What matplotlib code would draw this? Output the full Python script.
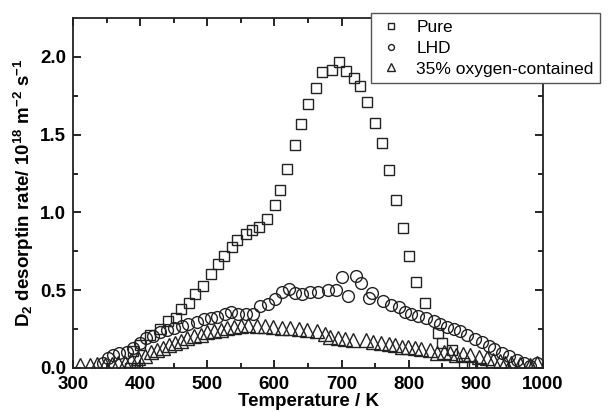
import numpy as np
import matplotlib
matplotlib.use("Agg")
from matplotlib import pyplot as plt

plt.rcParams["font.family"] = ["Liberation Sans", "DejaVu Sans"]
plt.rcParams["mathtext.fontset"] = "custom"
plt.rcParams["mathtext.rm"] = "Liberation Sans:bold"
plt.rcParams["mathtext.bf"] = "Liberation Sans:bold"
plt.rcParams["mathtext.default"] = "bf"

# pure W
pure_t = [385, 395, 389, 400, 415, 429, 441, 453, 461, 473, 482, 493, 505, 516, 525, 537, 545,
          557, 566, 577, 589, 601, 609, 619, 630, 640, 650, 662, 671, 686, 696, 707, 718,
          728, 738, 750, 760, 770, 781, 791, 801, 811, 824, 843, 850, 865, 882, 894, 908]
pure_v = [0.0, 0.0, 0.108, 0.15, 0.215, 0.248, 0.30, 0.32, 0.377, 0.42, 0.474, 0.528, 0.603,
          0.668, 0.72, 0.776, 0.82, 0.862, 0.884, 0.905, 0.96, 1.045, 1.142, 1.282, 1.433,
          1.569, 1.696, 1.80, 1.90, 1.918, 1.966, 1.91, 1.864, 1.81, 1.71, 1.573, 1.444,
          1.27, 1.078, 0.90, 0.722, 0.556, 0.42, 0.226, 0.162, 0.118, 0.032, 0.01, 0.0]

# LHD
lhd_t = [345, 352, 360, 369, 380, 390, 400, 409, 419, 430, 440, 451, 462, 472, 484, 495, 505,
         515, 526, 536, 546, 557, 568, 579, 590, 601, 611, 621, 631, 641, 653, 665, 680, 692,
         700, 710, 721, 729, 741, 746, 762, 773, 785, 794, 804, 814, 826, 837, 847, 857, 868,
         877, 887, 899, 909, 919, 927, 939, 950, 961, 972, 981, 991]
lhd_v = [0.03, 0.065, 0.085, 0.095, 0.105, 0.126, 0.16, 0.19, 0.206, 0.23, 0.244, 0.255, 0.27,
         0.285, 0.298, 0.315, 0.32, 0.33, 0.35, 0.36, 0.35, 0.345, 0.35, 0.40, 0.41, 0.445,
         0.49, 0.505, 0.48, 0.475, 0.49, 0.49, 0.50, 0.50, 0.585, 0.46, 0.59, 0.545, 0.45,
         0.48, 0.43, 0.405, 0.39, 0.36, 0.35, 0.335, 0.32, 0.305, 0.28, 0.265, 0.25, 0.235,
         0.21, 0.185, 0.17, 0.14, 0.12, 0.095, 0.075, 0.05, 0.03, 0.015, 0.03]

# 35% oxygen-contained
oxy_t = [310, 325, 335, 348, 358, 367, 377, 387, 397, 407, 416, 425, 434, 443, 452, 461, 470,
         480, 490, 500, 510, 520, 530, 540, 550, 561, 574, 586, 598, 611, 623, 636, 648, 663,
         676, 683, 695, 705, 717, 737, 747, 759, 770, 780, 790, 799, 809, 819, 832, 842, 852,
         861, 871, 881, 891, 904, 916, 926, 936, 944, 953, 966, 981, 991]
oxy_v = [0.02, 0.02, 0.025, 0.02, 0.025, 0.03, 0.035, 0.05, 0.065, 0.08, 0.1, 0.115, 0.13,
         0.145, 0.16, 0.175, 0.19, 0.205, 0.215, 0.23, 0.24, 0.245, 0.255, 0.265, 0.27, 0.275,
         0.27, 0.27, 0.265, 0.26, 0.255, 0.25, 0.245, 0.24, 0.22, 0.2, 0.19, 0.185, 0.18,
         0.18, 0.17, 0.16, 0.155, 0.148, 0.138, 0.133, 0.126, 0.12, 0.115, 0.095, 0.105,
         0.098, 0.085, 0.09, 0.085, 0.073, 0.062, 0.052, 0.045, 0.035, 0.03, 0.025, 0.018, 0.03]

labels = ["Pure", "LHD", "35% oxygen-contained"]

fig = plt.figure(figsize=(6.11, 4.12), dpi=100)
ax = fig.add_axes([73/611, 1-368/412, 470/611, 350/412])

ec = "#222222"
ax.plot(pure_t, pure_v, ls="none", marker="s", ms=7.5, mfc="none", mec=ec, mew=1.0, label=labels[0])
ax.plot(lhd_t, lhd_v, ls="none", marker="o", ms=8.5, mfc="none", mec=ec, mew=1.0, label=labels[1])
ax.plot(oxy_t, oxy_v, ls="none", marker="^", ms=10.5, mfc="none", mec=ec, mew=1.0, label=labels[2])

ax.set_xlim(300, 1000)
ax.set_ylim(0, 2.25)
ax.set_xticks(np.arange(300, 1001, 100))
ax.set_xticks(np.arange(350, 1000, 100), minor=True)
ax.set_yticks([0.0, 0.5, 1.0, 1.5, 2.0])
ax.set_yticks([0.25, 0.75, 1.25, 1.75], minor=True)
ax.yaxis.set_major_formatter(matplotlib.ticker.FormatStrFormatter("%.1f"))
ax.tick_params(which="both", direction="in", top=True, right=True, width=1.2,
               labelsize=13.5)
ax.tick_params(axis="x", pad=6)
ax.tick_params(axis="y", pad=5)
ax.tick_params(which="major", length=6)
ax.tick_params(which="minor", length=3.5)
for lab in ax.get_xticklabels() + ax.get_yticklabels():
    lab.set_fontweight("bold")
for s in ax.spines.values():
    s.set_linewidth(1.3)
    s.set_color("#222222")

ax.set_xlabel("Temperature / K", fontsize=13.5, fontweight="bold", labelpad=0)
ax.set_ylabel(r"D$_2$ desorptin rate/ 10$^{18}$ m$^{-2}$ s$^{-1}$", fontsize=13.5,
              fontweight="bold", labelpad=3)

leg = fig.legend(loc="upper left", bbox_to_anchor=(371/611, 1-13/412), fontsize=12.5,
                 frameon=True, fancybox=False, markerscale=0.5, handletextpad=0.7,
                 labelspacing=0.32, borderpad=0.4, handlelength=1.5, borderaxespad=0)
leg.get_frame().set_edgecolor("#555555")
leg.get_frame().set_linewidth(1.0)
leg.get_frame().set_alpha(1)

fig.savefig("out.png", dpi=100)
